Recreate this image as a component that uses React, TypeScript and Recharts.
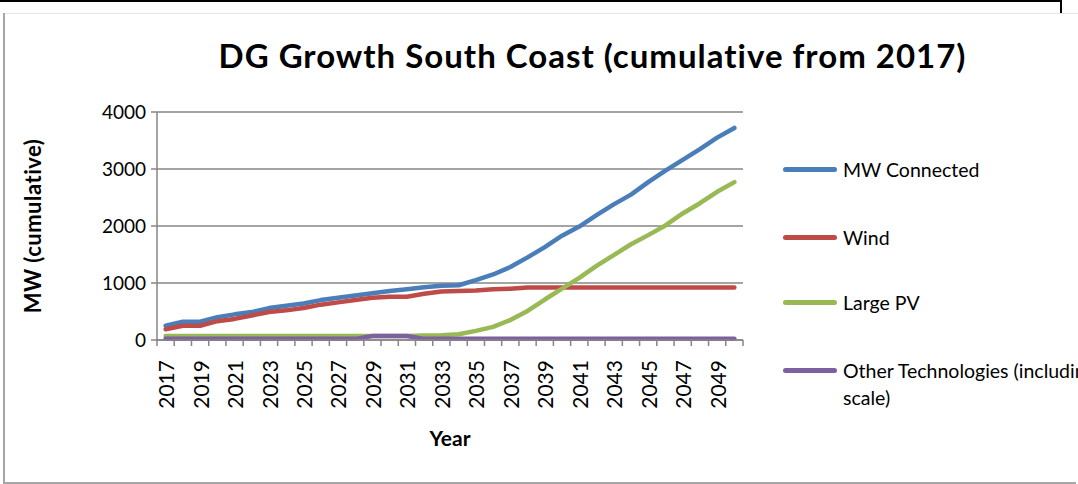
import React from "react";
import {
  LineChart,
  Line,
  XAxis,
  YAxis,
  CartesianGrid,
} from "recharts";

const years = [
  "2017", "2018", "2019", "2020", "2021", "2022", "2023", "2024", "2025",
  "2026", "2027", "2028", "2029", "2030", "2031", "2032", "2033", "2034",
  "2035", "2036", "2037", "2038", "2039", "2040", "2041", "2042", "2043",
  "2044", "2045", "2046", "2047", "2048", "2049", "2050",
];

const mwConnected = [
  250, 320, 320, 400, 450, 490, 560, 600, 640, 700, 740, 780, 820, 860, 890,
  925, 950, 960, 1050, 1150, 1280, 1450, 1630, 1830, 1990, 2190, 2380, 2550,
  2770, 2970, 3160, 3350, 3550, 3720,
];

const wind = [
  190, 250, 250, 330, 370, 430, 490, 520, 560, 620, 660, 700, 740, 760, 760,
  810, 850, 860, 870, 890, 900, 920, 920, 920, 920, 920, 920, 920, 920, 920,
  920, 920, 920, 920,
];

const largePV = [
  70, 70, 70, 70, 70, 70, 70, 70, 70, 70, 70, 70, 70, 70, 70, 80, 85, 100,
  160, 230, 350, 510, 710, 900, 1090, 1300, 1490, 1680, 1840, 2010, 2220,
  2400, 2600, 2770,
];

const otherTech = [
  20, 20, 20, 20, 20, 20, 20, 20, 20, 20, 20, 20, 70, 70, 70, 20, 20, 20, 20,
  20, 20, 20, 20, 20, 20, 20, 20, 20, 20, 20, 20, 20, 20, 20,
];

const yTicks = [0, 1000, 2000, 3000, 4000];

const SERIES = [
  { key: "mw", name: "MW Connected", color: "#4a7ebb" },
  { key: "wind", name: "Wind", color: "#be4b48" },
  { key: "pv", name: "Large PV", color: "#98b954" },
  { key: "other", name: "Other Technologies (including small scale)", color: "#7d60a0" },
];

const GRID = "#868686";
const FONT = "Lato, 'Open Sans', sans-serif";
const BAND = 586 / 34;

const chartData = years.map((year, i) => ({
  year,
  mw: mwConnected[i],
  wind: wind[i],
  pv: largePV[i],
  other: otherTech[i],
}));

function YearTick(props: any) {
  const { x, y, payload, index } = props;
  const left = x - BAND / 2;
  const isLast = index === years.length - 1;
  return (
    <g>
      <line x1={left} y1={y} x2={left} y2={y + 6} stroke={GRID} strokeWidth={1.5} />
      {isLast && (
        <line x1={x + BAND / 2} y1={y} x2={x + BAND / 2} y2={y + 6} stroke={GRID} strokeWidth={1.5} />
      )}
      {index % 2 === 0 && (
        <text
          x={x}
          y={y + 20}
          transform={`rotate(-90 ${x} ${y + 20})`}
          textAnchor="end"
          dominantBaseline="central"
          fontSize={21}
          fontFamily={FONT}
          fill="#000"
        >
          {payload.value}
        </text>
      )}
    </g>
  );
}

const legendRows = [169, 237, 302, 370];

export default function App() {
  return (
    <div
      style={{
        position: "absolute",
        left: 0,
        top: 0,
        width: 1078,
        height: 484,
        overflow: "hidden",
        background: "#fff",
        fontFamily: FONT,
      }}
    >
      {/* outer frame */}
      <div style={{ position: "absolute", left: 0, top: 0, width: 1062, height: 2, background: "#000" }} />
      <div style={{ position: "absolute", left: 1060, top: 0, width: 2, height: 13, background: "#000" }} />
      <div style={{ position: "absolute", left: 4, top: 13, width: 1074, height: 1, background: "#e6e6e6" }} />
      <div style={{ position: "absolute", left: 3, top: 13, width: 2, height: 471, background: "#a6a6a6" }} />
      <div style={{ position: "absolute", left: 3, top: 482, width: 1073, height: 2, background: "#a6a6a6" }} />

      <div
        style={{
          position: "absolute",
          left: 0,
          width: 1185,
          top: 35,
          textAlign: "center",
          fontSize: 33,
          letterSpacing: 1,
          fontWeight: 700,
          color: "#000",
          whiteSpace: "nowrap",
        }}
      >
        DG Growth South Coast (cumulative from 2017)
      </div>

      <LineChart
        width={1078}
        height={484}
        data={chartData}
        margin={{ top: 112, right: 335, bottom: 0, left: 0 }}
        style={{ position: "absolute", left: 0, top: 0 }}
      >
        <CartesianGrid vertical={false} stroke={GRID} strokeWidth={1.5} />
        <XAxis
          dataKey="year"
          height={144}
          interval={0}
          padding={{ left: BAND / 2, right: BAND / 2 }}
          tickLine={false}
          tickSize={0}
          tickMargin={0}
          axisLine={{ stroke: GRID, strokeWidth: 1.5 }}
          tick={<YearTick />}
        />
        <YAxis
          width={157}
          domain={[0, 4000]}
          ticks={yTicks}
          tickSize={6}
          tickMargin={5}
          axisLine={{ stroke: GRID, strokeWidth: 1.5 }}
          tickLine={{ stroke: GRID, strokeWidth: 1.5 }}
          tick={{ fontSize: 19, fill: "#000", fontFamily: FONT }}
        />
        {SERIES.map((s) => (
          <Line
            key={s.key}
            type="linear"
            dataKey={s.key}
            name={s.name}
            stroke={s.color}
            strokeWidth={4.5}
            strokeLinecap="round"
            strokeLinejoin="round"
            dot={false}
            isAnimationActive={false}
          />
        ))}
      </LineChart>

      {/* axis titles */}
      <div
        style={{
          position: "absolute",
          left: 32,
          top: 226,
          transform: "translate(-50%, -50%) rotate(-90deg)",
          fontSize: 22,
          letterSpacing: 0.5,
          fontWeight: 700,
          whiteSpace: "nowrap",
          color: "#000",
        }}
      >
        MW (cumulative)
      </div>
      <div
        style={{
          position: "absolute",
          left: 450,
          top: 437,
          transform: "translate(-50%, -50%)",
          fontSize: 21,
          fontWeight: 700,
          color: "#000",
        }}
      >
        Year
      </div>

      {/* legend */}
      {SERIES.map((s, i) => (
        <div key={s.key}>
          <div
            style={{
              position: "absolute",
              left: 783,
              top: legendRows[i] - 2.5,
              width: 54,
              height: 5,
              borderRadius: 3,
              background: s.color,
            }}
          />
          <div
            style={{
              position: "absolute",
              left: 843,
              top: legendRows[i] - 13,
              width: 330,
              fontSize: 19.5,
              lineHeight: "27px",
              color: "#000",
            }}
          >
            {s.name}
          </div>
        </div>
      ))}
    </div>
  );
}
